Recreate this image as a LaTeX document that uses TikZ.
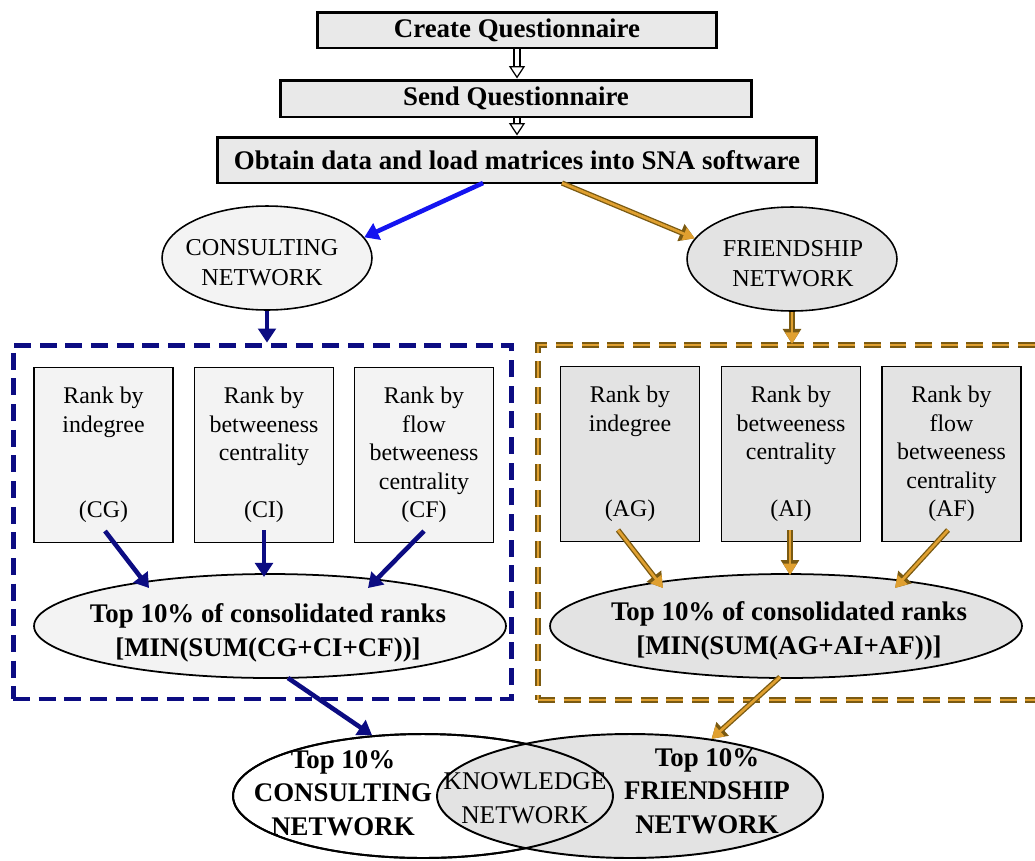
\documentclass[tikz,border=0pt]{standalone}
\usepackage{fontspec}
\setmainfont{Liberation Serif}
\usetikzlibrary{arrows.meta,shapes.geometric,calc}
\definecolor{navy}{HTML}{0C0C82}
\definecolor{bblue}{HTML}{1414F0}
\definecolor{gold}{HTML}{E0A030}
\definecolor{goldedge}{HTML}{7A5A12}
\definecolor{boxgray}{HTML}{E9E9E9}
\definecolor{lgray}{HTML}{F3F3F3}
\definecolor{dgray}{HTML}{E3E3E3}
\begin{document}
\begin{tikzpicture}[x=0.02cm,y=-0.02cm,
  topbox/.style={draw=black,line width=1.7pt,fill=boxgray,inner sep=0pt,font=\fontsize{15.3}{18}\selectfont\bfseries},
  netell/.style={ellipse,draw=black,line width=0.9pt,inner sep=0pt,minimum width=4.2cm,minimum height=2.08cm},
  nettext/.style={align=center,inner sep=0pt,font=\fontsize{13.8}{17}\selectfont},
  rankbox/.style={draw=black,line width=1pt,minimum width=2.78cm,minimum height=3.5cm,inner sep=0pt,align=center,font=\fontsize{13.6}{16.2}\selectfont},
  consell/.style={ellipse,draw=black,line width=1pt,minimum width=9.44cm,minimum height=2.08cm,inner sep=0pt},
  boldtext/.style={align=center,inner sep=0pt,font=\fontsize{15.3}{19}\selectfont\bfseries},
  btmell/.style={ellipse,draw=black,line width=1.1pt,minimum height=2.48cm,inner sep=0pt},
  hollowarr/.style={draw=white,line width=0.7pt,-{Triangle[open,color=black,fill=white,length=7pt,width=9pt]},
    preaction={draw=black,line width=4.2pt,shorten >=6.4pt,-},
    preaction={draw=white,line width=2.8pt,shorten >=5.6pt,-}},
  bluearr/.style={draw=bblue,line width=2.6pt,-{Triangle[length=8pt,width=10pt]}},
  navyarr/.style={draw=navy,line width=2.6pt,-{Triangle[length=8pt,width=10pt]}},
  goldarr/.style={draw=gold,line width=1.5pt,-{Triangle[length=6.5pt,width=7.5pt]},
    preaction={draw=goldedge,line width=3pt,-{Triangle[length=8.5pt,width=10pt]}}},
  bluedash/.style={draw=navy,line width=2.8pt,dash pattern=on 9.6pt off 5pt,inner sep=0pt},
  golddash/.style={draw=gold,line width=1.3pt,dash pattern=on 9.6pt off 5pt,inner sep=0pt,
    preaction={draw=goldedge,line width=3pt,dash pattern=on 9.6pt off 5pt}},
]
\clip (0,0) rectangle (1035,860);
\fill[white] (0,0) rectangle (1035,860);

% top process boxes
\node[topbox,minimum width=8cm,minimum height=0.72cm] (b1) at (517,30) {Create Questionnaire};
\node[topbox,minimum width=9.42cm,minimum height=0.74cm] (b2) at (516,98.5) {Send Questionnaire};
\node[topbox,minimum width=12cm,minimum height=0.92cm] (b3) at (517,160) {Obtain data and load matrices into SNA software};

% network ellipses
\node[netell,fill=lgray] (ce) at (267,258) {};
\node[nettext] (cet) at (262,263) {CONSULTING\\NETWORK};
\node[netell,fill=dgray] (fe) at (792,259) {};
\node[nettext] (fet) at (793,264) {FRIENDSHIP\\NETWORK};

% dashed groups
\node[bluedash,minimum width=9.98cm,minimum height=7.08cm] (cbox) at (262.5,522) {};
\node[golddash,minimum width=10.14cm,minimum height=7.1cm] (fbox) at (791.5,522.5) {};

% rank boxes
\node[rankbox,fill=lgray] (cg) at (103.5,455) {Rank by\\indegree\\[32.4pt](CG)};
\node[rankbox,fill=lgray] (ci) at (264,455) {Rank by\\betweeness\\centrality\\[16.2pt](CI)};
\node[rankbox,fill=lgray] (cf) at (424,455) {Rank by\\flow\\betweeness\\centrality\\(CF)};
\node[rankbox,fill=dgray] (ag) at (630,454) {Rank by\\indegree\\[32.4pt](AG)};
\node[rankbox,fill=dgray] (ai) at (791,454) {Rank by\\betweeness\\centrality\\[16.2pt](AI)};
\node[rankbox,fill=dgray] (af) at (951.5,454) {Rank by\\flow\\betweeness\\centrality\\(AF)};

% consolidated ellipses
\node[consell,fill=lgray] (cs) at (270,626) {};
\node[boldtext] (cst) at (268,633) {Top 10\% of consolidated ranks\\{}[MIN(SUM(CG+CI+CF))]};
\node[consell,fill=dgray] (fs) at (786,626) {};
\node[boldtext] (fst) at (789,631) {Top 10\% of consolidated ranks\\{}[MIN(SUM(AG+AI+AF))]};

% bottom overlapping ellipses
\node[btmell,fill=white,minimum width=7.6cm] (bl) at (423,796) {};
\node[btmell,fill=dgray,minimum width=7.72cm] (br) at (630,796) {};
\node[btmell,minimum width=7.6cm] (blo) at (bl) {};
\node[boldtext] (blt) at (343,793) {Top 10\%\\CONSULTING\\NETWORK};
\node[boldtext] (brt) at (707,791) {Top 10\%\\FRIENDSHIP\\NETWORK};
\node[align=center,inner sep=0pt,font=\fontsize{14.5}{19.3}\selectfont] (kn) at (525,798) {KNOWLEDGE\\NETWORK};

% connectors
\draw[hollowarr] (b1.south) -- (b1.south |- b2.north);
\draw[hollowarr] (b1.south |- b2.south) -- (b1.south |- b3.north);

\coordinate (b3l) at (483,183);
\coordinate (b3r) at (562,183);
\draw[bluearr] (b3l) -- (ce.12);
\draw[goldarr] (b3r) -- (fe.168);

\draw[navyarr] (ce.south) -- (ce.south |- cbox.north);
\draw[goldarr] (fe.south) -- (fe.south |- fbox.north);

\coordinate (cg1) at (105,531); \coordinate (cg2) at (149,588);
\coordinate (ci1) at (264,530); \coordinate (ci2) at (264,577);
\coordinate (cf1) at (424,531); \coordinate (cf2) at (368,588);
\coordinate (ag1) at (618,530); \coordinate (ag2) at (663,588);
\coordinate (ai1) at (790,530); \coordinate (ai2) at (790,575);
\coordinate (af1) at (948,530); \coordinate (af2) at (895,588);
\draw[navyarr] (cg1) -- (cg2);
\draw[navyarr] (ci1) -- (ci2);
\draw[navyarr] (cf1) -- (cf2);
\draw[goldarr] (ag1) -- (ag2);
\draw[goldarr] (ai1) -- (ai2);
\draw[goldarr] (af1) -- (af2);

\coordinate (cs1) at (288,678);
\coordinate (fs1) at (780,677);
\draw[navyarr] (cs1) -- (bl.130);
\draw[goldarr] (fs1) -- (br.35);
\end{tikzpicture}
\end{document}
